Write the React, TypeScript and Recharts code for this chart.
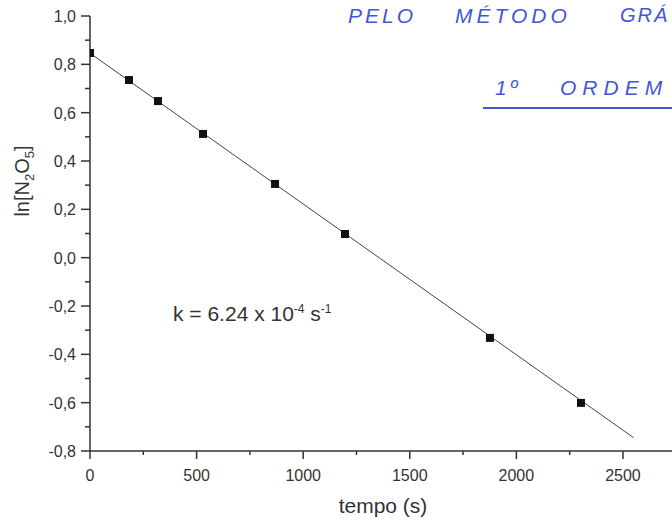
import { ScatterChart, Scatter, XAxis, YAxis, ZAxis } from "recharts";

// measured points: tempo (s) vs ln[N2O5]
const tempo = [0, 183, 319, 530, 868, 1196, 1876, 2303];
const lnConc = [0.847, 0.735, 0.648, 0.512, 0.305, 0.098, -0.332, -0.601];

// linear fit endpoints
const fitTempo = [0, 2550];
const fitLn = [0.846, -0.745];

const xTicks = [0, 250, 500, 750, 1000, 1250, 1500, 1750, 2000, 2250, 2500];
const yTicks = [-0.8, -0.7, -0.6, -0.5, -0.4, -0.3, -0.2, -0.1, 0, 0.1, 0.2, 0.3, 0.4, 0.5, 0.6, 0.7, 0.8, 0.9, 1.0];

const points = tempo.map((t, i) => ({ x: t, y: lnConc[i] }));
const fit = fitTempo.map((t, i) => ({ x: t, y: fitLn[i] }));

const AXIS_X = 90;
const AXIS_Y = 451;
const INK = "#333";
const PEN = "#4456d6";

const YTick = (props: any) => {
  const { y, payload } = props;
  const v = payload.value;
  const major = Math.round(v * 10) % 2 === 0;
  return (
    <g>
      <line x1={AXIS_X - (major ? 9 : 5)} x2={AXIS_X} y1={y} y2={y} stroke={INK} strokeWidth={1.5} />
      {major && (
        <text x={AXIS_X - 14} y={y + 6} textAnchor="end" fontSize={16} fill={INK}>
          {v.toFixed(1).replace(".", ",")}
        </text>
      )}
    </g>
  );
};

const XTick = (props: any) => {
  const { x, payload } = props;
  const v = payload.value;
  const major = v % 500 === 0;
  return (
    <g>
      <line x1={x} x2={x} y1={AXIS_Y} y2={AXIS_Y + (major ? 8 : 4)} stroke={INK} strokeWidth={1.5} />
      {major && (
        <text x={x} y={AXIS_Y + 30} textAnchor="middle" fontSize={16} fill={INK}>
          {v}
        </text>
      )}
    </g>
  );
};

const pen = (left: number, top: number, spacing: number, size = 21) => ({
  position: "absolute" as const,
  left,
  top,
  fontSize: size,
  fontStyle: "italic",
  letterSpacing: spacing,
  color: PEN,
  whiteSpace: "nowrap" as const,
});

export default function App() {
  return (
    <div
      style={{
        position: "absolute",
        left: 0,
        top: 0,
        width: 672,
        height: 523,
        overflow: "hidden",
        background: "#fff",
        fontFamily: "'Liberation Sans', Arial, sans-serif",
        color: INK,
      }}
    >
      <ScatterChart width={672} height={523} margin={{ top: 16, right: 0, bottom: 0, left: 0 }}>
        <XAxis
          type="number"
          dataKey="x"
          domain={[0, 2730]}
          ticks={xTicks}
          interval={0}
          height={72}
          tick={<XTick />}
          tickLine={false}
          axisLine={{ stroke: INK, strokeWidth: 1.5 }}
          allowDataOverflow
        />
        <YAxis
          type="number"
          dataKey="y"
          domain={[-0.8, 1.0]}
          ticks={yTicks}
          interval={0}
          width={90}
          tick={<YTick />}
          tickLine={false}
          axisLine={{ stroke: INK, strokeWidth: 1.5 }}
          allowDataOverflow
        />
        <ZAxis range={[81, 81]} />
        <Scatter
          data={fit}
          line={{ stroke: "#444", strokeWidth: 1 }}
          shape={() => <g />}
          isAnimationActive={false}
        />
        <Scatter data={points} shape="square" fill="#111" isAnimationActive={false} />
      </ScatterChart>

      <div
        style={{
          position: "absolute",
          left: 24,
          top: 181,
          transform: "translate(-50%, -50%) rotate(-90deg)",
          fontSize: 20,
          whiteSpace: "nowrap",
        }}
      >
        ln[N<sub style={{ fontSize: 13 }}>2</sub>O<sub style={{ fontSize: 13 }}>5</sub>]
      </div>

      <div
        style={{
          position: "absolute",
          left: 383,
          top: 506,
          transform: "translate(-50%, -50%)",
          fontSize: 21,
          whiteSpace: "nowrap",
        }}
      >
        tempo (s)
      </div>

      <div style={{ position: "absolute", left: 173, top: 302, fontSize: 21, whiteSpace: "nowrap" }}>
        k = 6.24 x 10<sup style={{ fontSize: 12 }}>-4</sup> s<sup style={{ fontSize: 12 }}>-1</sup>
      </div>

      <div style={pen(348, 4, 3)}>PELO</div>
      <div style={pen(455, 4, 4)}>MÉTODO</div>
      <div style={pen(620, 4, 2, 20)}>GRÁ</div>

      <div style={pen(495, 76, 3)}>1º</div>
      <div style={pen(560, 76, 6)}>ORDEM</div>
      <div
        style={{
          position: "absolute",
          left: 483,
          top: 107,
          width: 200,
          height: 0,
          borderTop: `2px solid ${PEN}`,
        }}
      />
    </div>
  );
}
